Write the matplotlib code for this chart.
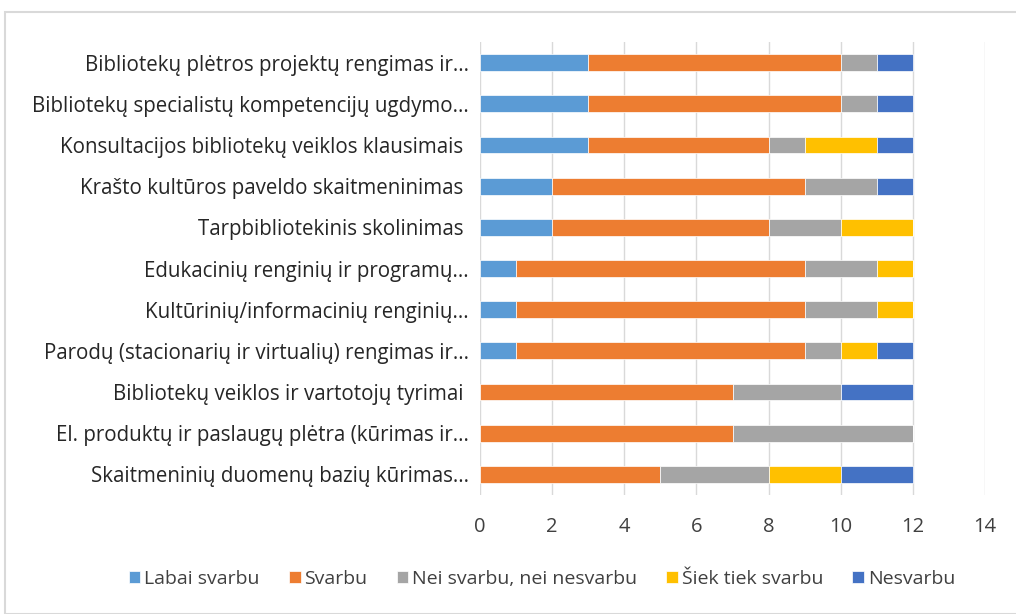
import numpy as np
import matplotlib
matplotlib.use('Agg')
from matplotlib import pyplot as plt
from matplotlib.patches import Rectangle

# categories, top to bottom as in the picture
categories = [
    'Bibliotekų plėtros projektų rengimas ir...',
    'Bibliotekų specialistų kompetencijų ugdymo...',
    'Konsultacijos bibliotekų veiklos klausimais ',
    'Krašto kultūros paveldo skaitmeninimas ',
    'Tarpbibliotekinis skolinimas ',
    'Edukacinių renginių ir programų...',
    'Kultūrinių/informacinių renginių...',
    'Parodų (stacionarių ir virtualių) rengimas ir...',
    'Bibliotekų veiklos ir vartotojų tyrimai ',
    'El. produktų ir paslaugų plėtra (kūrimas ir...',
    'Skaitmeninių duomenų bazių kūrimas...',
]
series_names = ['Labai svarbu', 'Svarbu', 'Nei svarbu, nei nesvarbu',
                'Šiek tiek svarbu', 'Nesvarbu']
labai = [3, 3, 3, 2, 2, 1, 1, 1, 0, 0, 0]
svarbu = [7, 7, 5, 7, 6, 8, 8, 8, 7, 7, 5]
nei = [1, 1, 1, 2, 2, 2, 2, 1, 3, 5, 3]
siek = [0, 0, 2, 0, 2, 1, 1, 1, 0, 0, 2]
nesvarbu = [1, 1, 1, 1, 0, 0, 0, 1, 2, 0, 2]
colors = ['#5B9BD5', '#ED7D31', '#A5A5A5', '#FFC000', '#4472C4']
xticks = [0, 2, 4, 6, 8, 10, 12, 14]

plt.rcParams['font.family'] = ['Open Sans', 'DejaVu Sans']

fig = plt.figure(figsize=(10.16, 6.14), dpi=100)
ax = fig.add_axes([480/1016, 1-495/614, 505/1016, 453/614])

# light frame around the chart
fig.patches.append(Rectangle((5/1016, 0), 1.0, 1-12/614, transform=fig.transFigure,
                             fill=False, edgecolor='#D9D9D9', linewidth=1.5))

y = np.arange(len(categories))[::-1]
left = np.zeros(len(categories))
for name, vals, c in zip(series_names, [labai, svarbu, nei, siek, nesvarbu], colors):
    vals = np.array(vals, dtype=float)
    ax.barh(y, vals, left=left, height=0.41, color=c, label=name,
            edgecolor='white', linewidth=0.5, zorder=3)
    left += vals

ax.set_xlim(0, 14)
ax.set_ylim(-0.5, 10.5)
ax.set_xticks(xticks)
ax.set_yticks(y)
ax.set_yticklabels(categories, fontsize=14.8, color='#262626')
ax.tick_params(axis='x', labelsize=14.5, colors='#404040', length=0, pad=16)
ax.tick_params(axis='y', length=0, pad=8)
ax.grid(axis='x', color='#D9D9D9', linewidth=1, zorder=0)
for s in ax.spines.values():
    s.set_visible(False)

fig.legend(loc='center', bbox_to_anchor=(542/1016, 1-579/614), ncol=5,
           frameon=False, fontsize=14, handlelength=0.6, handleheight=0.6,
           handletextpad=0.2, columnspacing=1.5, labelcolor='#404040')

fig.savefig('out.png', dpi=100)
